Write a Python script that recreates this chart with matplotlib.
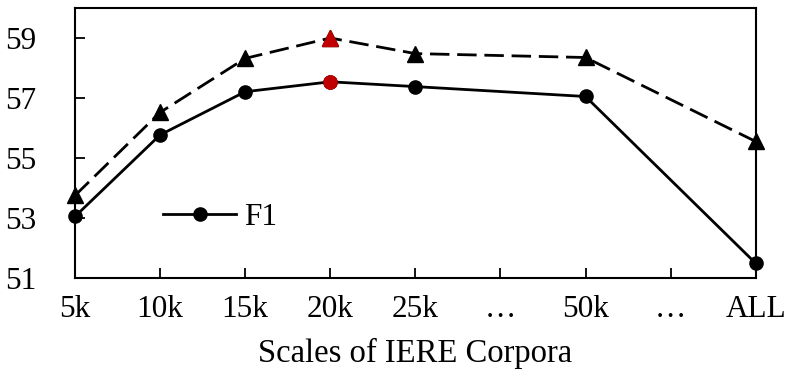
import matplotlib.pyplot as plt
from matplotlib.lines import Line2D

# Data
labels = ["5k", "10k", "15k", "20k", "25k", "\u2026", "50k", "\u2026", "ALL"]
f1_pos = [0, 1, 2, 3, 4, 6, 8]
f1_vals = [53.05, 55.77, 57.21, 57.54, 57.38, 57.05, 51.49]
dash_vals = [53.75, 56.52, 58.32, 59.0, 58.48, 58.35, 55.55]
best_idx = 3  # 20k, drawn in red

plt.rcParams['font.family'] = ['Liberation Serif', 'DejaVu Serif']
plt.rcParams['font.size'] = 22.5

fig = plt.figure(figsize=(7.89, 3.76), dpi=100)
ax = fig.add_axes([75 / 789, 1 - 278 / 376, 680.7 / 789, 270 / 376])

black = "#000000"
red = "#C00000"

ax.plot(f1_pos, dash_vals, color=black, lw=2.0, dashes=(7, 2.8),
        marker="^", ms=11, clip_on=False, zorder=3)
f1_line, = ax.plot(f1_pos, f1_vals, color=black, lw=2.0, marker="o", ms=9.5,
                   clip_on=False, zorder=3)

# highlighted best points
ax.plot(f1_pos[best_idx], dash_vals[best_idx], marker="^", ms=11, color=red,
        ls="none", zorder=4, clip_on=False)
ax.plot(f1_pos[best_idx], f1_vals[best_idx], marker="o", ms=9.5, color=red,
        ls="none", zorder=4, clip_on=False)

ax.set_xlim(0, 8)
ax.set_ylim(51, 60)
ax.set_xticks(range(len(labels)))
ax.set_xticklabels(labels)
ax.set_yticks([51, 53, 55, 57, 59])

ax.tick_params(axis="x", direction="in", length=7, width=1.3, pad=12)
ax.tick_params(axis="y", direction="in", length=7, width=1.3, pad=28)
ax.tick_params(top=False, right=False)
for s in ax.spines.values():
    s.set_linewidth(1.5)

ax.set_xlabel("Scales of IERE Corpora", fontsize=23.5, labelpad=10)

leg_handle = Line2D([], [], color=black, lw=2.0, marker="o", ms=9.5)
ax.legend(handles=[leg_handle], labels=["F1"], loc="center left",
          bbox_to_anchor=(0.129, 0.223), frameon=False, borderpad=0,
          borderaxespad=0, handlelength=2.35, handletextpad=0.25)

fig.savefig("out.png", dpi=100)
